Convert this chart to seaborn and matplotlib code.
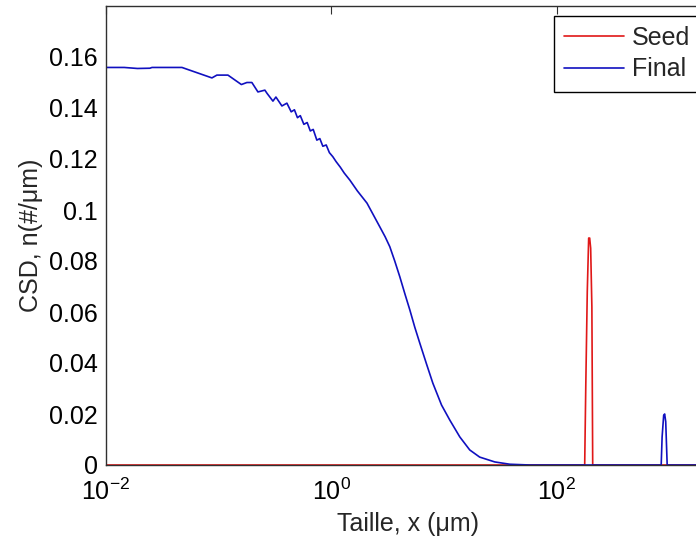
import numpy as np
import pandas as pd
import matplotlib
matplotlib.use('Agg')
import matplotlib.pyplot as plt
import seaborn as sns

sns.set_style('white')
plt.rcParams['font.family'] = ['Liberation Sans', 'DejaVu Sans']
plt.rcParams['mathtext.fontset'] = 'custom'
plt.rcParams['mathtext.rm'] = 'Liberation Sans'

# Final CSD (blue)
final_x = [0.01, 0.0145, 0.019, 0.0245, 0.0256, 0.0472, 0.0871, 0.0964, 0.1208,
           0.159, 0.178, 0.197, 0.223, 0.257, 0.268, 0.303, 0.322, 0.364, 0.403,
           0.44, 0.47, 0.50, 0.53, 0.57, 0.61, 0.65, 0.69, 0.743, 0.79, 0.84,
           0.90, 0.96, 1.03, 1.10, 1.2, 1.3, 1.46, 1.7, 2.07, 2.35, 2.69, 3.0,
           3.30, 3.65, 4.05, 4.5, 4.97, 5.5, 6.09, 7.0, 7.95, 9.5, 11.25, 13.8,
           16.9, 20.7, 28.2, 38.3, 57.7, 845, 861, 889, 907, 927, 955, 2500]
final_y = [0.1559, 0.1559, 0.1555, 0.1556, 0.1559, 0.1559, 0.1518, 0.1529, 0.1529,
           0.1492, 0.1500, 0.1500, 0.1463, 0.1470, 0.1458, 0.1427, 0.1443, 0.1408, 0.1419,
           0.1385, 0.1393, 0.1362, 0.1370, 0.1336, 0.1343, 0.1310, 0.1316, 0.1274, 0.1280, 0.1250,
           0.1255, 0.1225, 0.1209, 0.1190, 0.1168, 0.1145, 0.1117, 0.1075, 0.1027, 0.0982, 0.0934, 0.0895,
           0.0856, 0.0800, 0.0738, 0.0670, 0.0608, 0.0540, 0.0478, 0.0395, 0.0321, 0.0235, 0.0176, 0.0110,
           0.0059, 0.0031, 0.0012, 0.0003, 0.0, 0.0, 0.011, 0.0195, 0.0200, 0.0170, 0.0, 0.0]

# Seed CSD (red)
seed_x = [0.01, 177, 181, 186.6, 192, 196, 200, 205, 208.5, 2500]
seed_y = [0.0, 0.0, 0.031, 0.068, 0.089, 0.089, 0.085, 0.062, 0.0, 0.0]

yticks = [0, 0.02, 0.04, 0.06, 0.08, 0.1, 0.12, 0.14, 0.16]
ytick_labels = ['0', '0.02', '0.04', '0.06', '0.08', '0.1', '0.12', '0.14', '0.16']
xticks = [1e-2, 1e0, 1e2]

df_seed = pd.DataFrame({'x': seed_x, 'y': seed_y})
df_final = pd.DataFrame({'x': final_x, 'y': final_y})

fig = plt.figure(figsize=(6.96, 5.43), dpi=100)
ax = fig.add_axes([106 / 696, 78 / 543, 604 / 696, 459 / 543])

sns.lineplot(data=df_seed, x='x', y='y', ax=ax, color='#e01818', lw=1.2,
             label='Seed', sort=False, estimator=None)
sns.lineplot(data=df_final, x='x', y='y', ax=ax, color='#1010c0', lw=1.2,
             label='Final', sort=False, estimator=None)

ax.set_xscale('log')
ax.set_xticks(xticks)
ax.minorticks_off()
ax.set_xlim(1e-2, 10 ** 3.36)
ax.set_yticks(yticks)
ax.set_yticklabels(ytick_labels)
ax.set_ylim(0, 0.18)
ax.tick_params(direction='in', length=6, width=0.8, top=True, right=True,
               labelsize=18, colors='#303030', labelcolor='black')
ax.tick_params(axis='x', pad=10)
ax.tick_params(axis='y', pad=6)
for s in ax.spines.values():
    s.set_color('#303030')
    s.set_linewidth(1.0)

ax.set_xlabel('Taille, x (μm)', fontsize=18, labelpad=5)
ax.set_ylabel('CSD, n(#/μm)', fontsize=18, labelpad=4)

leg = ax.legend(loc='upper left', bbox_to_anchor=(554 / 696, 527 / 543),
                bbox_transform=fig.transFigure, fontsize=18, frameon=True,
                fancybox=False, edgecolor='black', framealpha=1,
                handlelength=2.4, borderpad=0.4, labelspacing=0.3, handletextpad=0.3,
                borderaxespad=0)
leg.get_frame().set_linewidth(1.0)

fig.savefig('out.png', dpi=100)
